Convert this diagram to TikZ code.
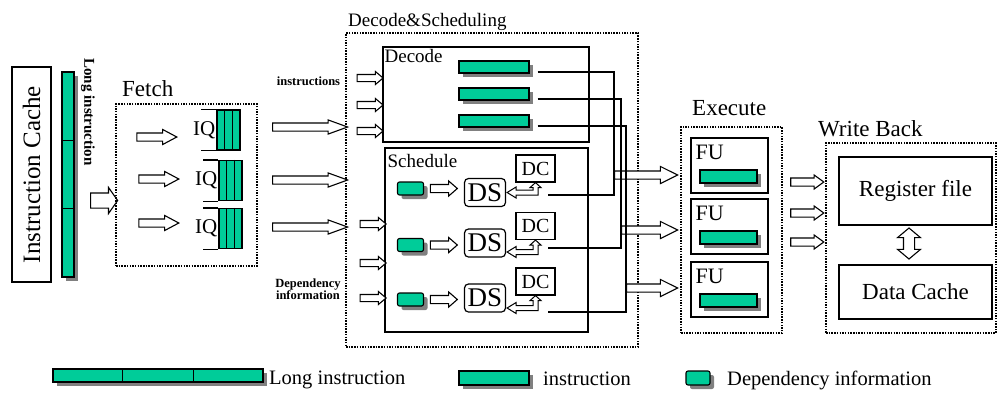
\documentclass[tikz,border=0pt]{standalone}
\usepackage{fontspec}
\setmainfont{Liberation Serif}
\usetikzlibrary{arrows.meta, positioning, calc, shapes.arrows, shadows}

\definecolor{instgreen}{RGB}{0,204,153}
\newcommand\setfs[1]{\fontsize{#1}{#1}\selectfont}

% bent double arrow between a DS node and its DC node
\newcommand\dsdc[3]{%
  \draw[line width=1pt, fill=white, line join=miter]
    let \p1=($(#1.east)+(1,#3)$), \p2=(#2.south) in
    (\p1) -- (\x1+9pt,\y1+5.5pt) -- (\x1+9pt,\y1+2.5pt) -- (\x2-2.5pt,\y1+2.5pt)
    -- (\x2-2.5pt,\y2-5pt) -- (\x2-5.5pt,\y2-5pt) -- (\p2) -- (\x2+5.5pt,\y2-5pt)
    -- (\x2+2.5pt,\y2-5pt) -- (\x2+2.5pt,\y1-2.5pt) -- (\x1+9pt,\y1-2.5pt)
    -- (\x1+9pt,\y1-5.5pt) -- cycle;}

\begin{document}
\begin{tikzpicture}[
    x=1pt, y=-1pt,
    stage/.style={
        draw,
        line width=1.5pt,
        dash pattern=on 1.5pt off 1.2pt,
        inner sep=0pt,
    },
    unit/.style={
        draw,
        line width=1.2pt,
        inner sep=0pt,
    },
    instr/.style={
        draw,
        line width=1.1pt,
        fill=instgreen,
        inner sep=0pt,
        minimum width=70pt,
        minimum height=12pt,
        drop shadow={shadow xshift=4pt, shadow yshift=-4pt, fill=black!50, opacity=1},
    },
    depbox/.style={
        instr,
        rounded corners=2pt,
        minimum width=26pt,
        minimum height=13pt,
    },
    hollow/.style n args={4}{
        single arrow,
        draw,
        fill=white,
        line width=1.1pt,
        inner xsep=0pt,
        inner ysep=#2,
        single arrow head extend=#3,
        single arrow tip angle=#4,
        single arrow head indent=0pt,
        minimum height=#1,
        minimum width=0pt,
    },
    wire/.style={
        line width=1.2pt,
    },
    heading/.style={
        font=\setfs{23},
        inner sep=0pt,
        anchor=base west,
    },
    boxlabel/.style={
        font=\setfs{19},
        inner sep=0pt,
    },
    tag/.style={
        font=\bfseries\setfs{12.5},
        inner sep=0pt,
        align=center,
    },
    legend/.style={
        font=\setfs{20.5},
        inner sep=0pt,
        anchor=base west,
    }
]
    \useasboundingbox (0,0) rectangle (997,392);

    % Instruction cache and long instruction word
    \node[unit, rotate=90, minimum width=215pt, minimum height=39pt, font=\setfs{25}] (icache) at (31.5,174.5) {Instruction Cache};
    \node[instr, minimum width=12pt, minimum height=205pt] (longv) at (68,174.5) {};
    \draw[line width=1.1pt] ($(longv.north west)!1/3!(longv.south west)$) -- ($(longv.north east)!1/3!(longv.south east)$)
        ($(longv.north west)!2/3!(longv.south west)$) -- ($(longv.north east)!2/3!(longv.south east)$);
    \node[tag, rotate=-90, font=\bfseries\setfs{15}] (longlbl) at (88,112) {Long instruction};
    \node[hollow={27pt}{7pt}{5.5pt}{110}] (tofetch) at (101.5,200.5) {};

    % Fetch
    \node[stage, minimum width=141pt, minimum height=162pt] (fetch) at (186.5,185) {};
    \node[heading] at (122,96) {Fetch};
    \foreach \i/\ax/\ay/\qx/\qy in {1/153/137/228.5/130, 2/155/179/230.5/180.5, 3/155/223/230.5/228.5} {
        \node[hollow={40pt}{3.5pt}{3.5pt}{56}] (fa\i) at (\ax,\ay) {};
        \node[unit, line width=1.1pt, fill=instgreen, minimum width=23pt, minimum height=40pt] (iq\i) at (\qx,\qy) {};
        \draw[line width=1.1pt] ($(iq\i.north west)!1/3!(iq\i.north east)$) -- ($(iq\i.south west)!1/3!(iq\i.south east)$)
            ($(iq\i.north west)!2/3!(iq\i.north east)$) -- ($(iq\i.south west)!2/3!(iq\i.south east)$);
        \draw[line width=1.1pt] (iq\i.north west) -- ++(-15,0) (iq\i.south west) -- ++(-15,0);
        \node[font=\setfs{21}, inner sep=0pt, left=1pt of iq\i] (iqlbl\i) {IQ};
    }

    % Fetch -> Decode&Scheduling
    \foreach \i/\y in {1/127, 2/180, 3/227}
        \node[hollow={75pt}{3.5pt}{3pt}{40}] (da\i) at (304.5,\y) {};

    % Decode & Scheduling
    \node[stage, minimum width=292pt, minimum height=314pt] (dsched) at (492,190) {};
    \node[heading, font=\setfs{19}] at (348,26) {Decode\&Scheduling};
    \node[unit, minimum width=206pt, minimum height=95pt] (decode) at (486,94.5) {};
    \node[boxlabel, below right=2.5pt and 2pt of decode.north west] {Decode};
    \node[unit, minimum width=203pt, minimum height=184pt] (sched) at (486.5,240) {};
    \node[boxlabel, below right=7pt and 3pt of sched.north west] {Schedule};

    % decoded instructions
    \node[tag] (instlbl) at (308.5,81) {instructions};
    \foreach \i/\y in {1/67, 2/94, 3/121}
        \node[instr] (ins\i) at (494,\y) {};
    \foreach \i/\y in {1/78, 2/105, 3/131}
        \node[hollow={26pt}{3pt}{3pt}{80}] (ia\i) at (368,\y) {};

    % dependency information, DS and DC
    \node[tag] (deplbl) at (308,289) {Dependency\\information};
    \foreach \i/\y in {1/224, 2/263, 3/298}
        \node[hollow={26pt}{3pt}{3pt}{80}] (sa\i) at (371,\y) {};
    \foreach \i/\dy/\sy/\cy/\off in {1/188.5/192.5/168.5/0, 2/245/243/226/9, 3/299.5/298/281.5/10} {
        \node[depbox] (dep\i) at (410.5,\dy) {};
        \node[hollow={27pt}{3.5pt}{3.5pt}{82}] (pa\i) at (441.5,\dy) {};
        \node[unit, rounded corners=4pt, minimum width=41pt, minimum height=28pt, font=\setfs{27}] (ds\i) at (485,\sy) {DS};
        \node[unit, minimum width=39pt, minimum height=27pt, font=\setfs{20}] (dc\i) at (535.5,\cy) {DC};
        \dsdc{ds\i}{dc\i}{\off}
    }

    % Execute
    \node[stage, minimum width=101pt, minimum height=206pt] (exec) at (731.5,230) {};
    \node[heading] at (692,115) {Execute};
    \foreach \i/\y in {1/165.5, 2/226.5, 3/289.5} {
        \node[unit, minimum width=77pt, minimum height=55pt] (fu\i) at (729.5,\y) {};
        \node[font=\setfs{22}, inner sep=0pt, below right=7pt and 5pt of fu\i.north west] {FU};
        \node[instr, minimum width=57pt, minimum height=13pt] (fubar\i) at ($(fu\i.center)+(-1,11)$) {};
    }

    % issue wires and arrows into the FUs
    \coordinate (bus1) at (614,175);
    \coordinate (bus2) at (621,230);
    \coordinate (bus3) at (626,288);
    \coordinate (dcw1) at (548,195);
    \coordinate (dcw2) at (548,248);
    \coordinate (dcw3) at (548,312);
    \foreach \i/\len in {1/63, 2/56, 3/51}
        \node[hollow={\len pt}{3.5pt}{4.5pt}{53}, anchor=tail] (ea\i) at (bus\i) {};
    \foreach \i in {1,2,3}
        \draw[wire] ($(ins\i.east)+(8,5)$) -| (bus\i) |- (dcw\i);

    % Write Back
    \foreach \i/\y in {1/182, 2/213, 3/242}
        \node[hollow={33pt}{3.5pt}{3pt}{72}] (wa\i) at (804.5,\y) {};
    \node[stage, minimum width=170pt, minimum height=190pt] (wb) at (911,238) {};
    \node[heading] at (818,136) {Write Back};
    \node[unit, minimum width=153pt, minimum height=68pt, font=\setfs{23}] (regfile) at (915.5,191) {Register file};
    \node[unit, minimum width=153pt, minimum height=54pt, font=\setfs{23}] (dcache) at (915.5,292) {Data Cache};
    \node[double arrow, draw, fill=white, line width=1.1pt, rotate=90, inner xsep=0pt, inner ysep=5pt,
        double arrow head extend=6pt, double arrow tip angle=100, minimum height=31pt] (rw) at (909,243.5) {};

    % Legend
    \node[instr, minimum width=210pt, minimum height=13pt] (lglong) at (158,375.5) {};
    \draw[line width=1.1pt] ($(lglong.north west)!1/3!(lglong.north east)$) -- ($(lglong.south west)!1/3!(lglong.south east)$)
        ($(lglong.north west)!2/3!(lglong.north east)$) -- ($(lglong.south west)!2/3!(lglong.south east)$);
    \node[legend] at (269,384) {Long instruction};
    \node[instr, minimum width=70pt, minimum height=14pt] (lginst) at (494,378) {};
    \node[legend] at (543,385) {instruction};
    \node[depbox, minimum width=24pt, minimum height=14pt] (lgdep) at (698,378) {};
    \node[legend] at (727,385) {Dependency information};
\end{tikzpicture}
\end{document}
